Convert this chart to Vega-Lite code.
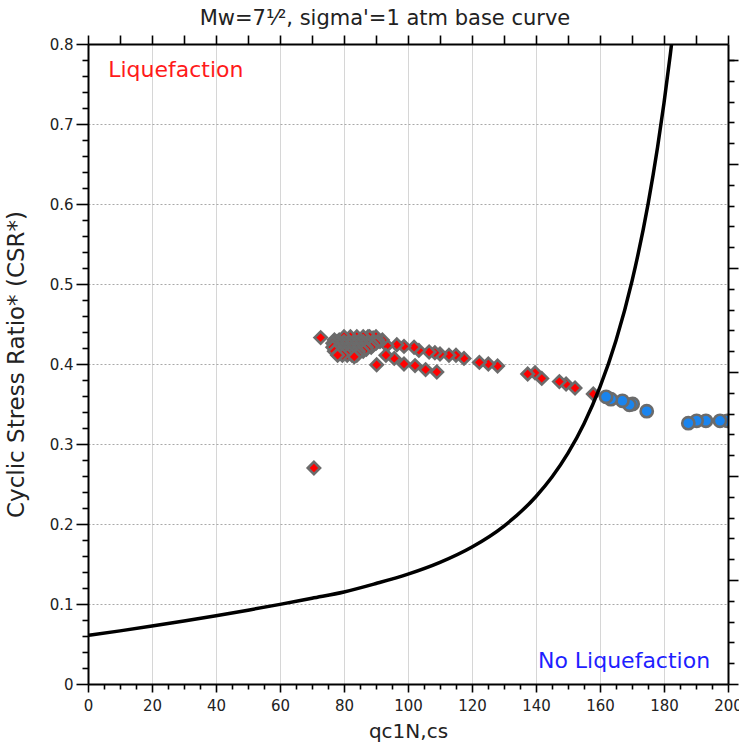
{
  "$schema": "https://vega.github.io/schema/vega-lite/v6.json",
  "width": 640,
  "height": 640,
  "autosize": {"type": "none"},
  "padding": {"left": 88, "top": 44, "right": 11, "bottom": 61},
  "background": "white",
  "title": {"text": "Mw=7¹⁄², sigma'=1 atm base curve", "font": "DejaVu Sans", "fontSize": 21, "fontWeight": "normal", "color": "#222222", "anchor": "middle", "offset": 5, "dx": -23},
  "config": {
    "view": {"stroke": null},
    "axis": {"domainColor": "black", "domainWidth": 2, "tickColor": "black", "tickWidth": 1.6, "labelFont": "DejaVu Sans", "labelFontSize": 15, "labelColor": "#222222", "titleFont": "DejaVu Sans", "titleFontSize": 20, "titleFontWeight": "normal", "titleColor": "#222222"}
  },
  "datasets": {
    "pts": [
      {"q": 199.8, "csr": 0.329, "status": "No Liquefaction"},
      {"q": 197.5, "csr": 0.329, "status": "No Liquefaction"},
      {"q": 193.1, "csr": 0.329, "status": "No Liquefaction"},
      {"q": 190.2, "csr": 0.329, "status": "No Liquefaction"},
      {"q": 187.6, "csr": 0.326, "status": "No Liquefaction"},
      {"q": 174.6, "csr": 0.341, "status": "No Liquefaction"},
      {"q": 170.2, "csr": 0.350, "status": "No Liquefaction"},
      {"q": 169.2, "csr": 0.349, "status": "No Liquefaction"},
      {"q": 167.0, "csr": 0.354, "status": "No Liquefaction"},
      {"q": 163.4, "csr": 0.356, "status": "No Liquefaction"},
      {"q": 161.9, "csr": 0.359, "status": "No Liquefaction"},
      {"q": 157.9, "csr": 0.3625, "status": "Liquefaction"},
      {"q": 152.2, "csr": 0.370, "status": "Liquefaction"},
      {"q": 149.4, "csr": 0.375, "status": "Liquefaction"},
      {"q": 147.3, "csr": 0.378, "status": "Liquefaction"},
      {"q": 141.8, "csr": 0.382, "status": "Liquefaction"},
      {"q": 139.7, "csr": 0.389, "status": "Liquefaction"},
      {"q": 137.4, "csr": 0.3875, "status": "Liquefaction"},
      {"q": 128.0, "csr": 0.3975, "status": "Liquefaction"},
      {"q": 125.1, "csr": 0.400, "status": "Liquefaction"},
      {"q": 122.3, "csr": 0.402, "status": "Liquefaction"},
      {"q": 117.5, "csr": 0.407, "status": "Liquefaction"},
      {"q": 115.0, "csr": 0.411, "status": "Liquefaction"},
      {"q": 112.8, "csr": 0.411, "status": "Liquefaction"},
      {"q": 110.0, "csr": 0.4125, "status": "Liquefaction"},
      {"q": 109.0, "csr": 0.390, "status": "Liquefaction"},
      {"q": 108.4, "csr": 0.414, "status": "Liquefaction"},
      {"q": 106.6, "csr": 0.415, "status": "Liquefaction"},
      {"q": 105.5, "csr": 0.393, "status": "Liquefaction"},
      {"q": 103.4, "csr": 0.417, "status": "Liquefaction"},
      {"q": 102.2, "csr": 0.398, "status": "Liquefaction"},
      {"q": 101.9, "csr": 0.421, "status": "Liquefaction"},
      {"q": 98.75, "csr": 0.400, "status": "Liquefaction"},
      {"q": 98.75, "csr": 0.422, "status": "Liquefaction"},
      {"q": 96.5, "csr": 0.424, "status": "Liquefaction"},
      {"q": 95.7, "csr": 0.407, "status": "Liquefaction"},
      {"q": 93.4, "csr": 0.423, "status": "Liquefaction"},
      {"q": 93.1, "csr": 0.411, "status": "Liquefaction"},
      {"q": 91.25, "csr": 0.428, "status": "Liquefaction"},
      {"q": 90.2, "csr": 0.399, "status": "Liquefaction"},
      {"q": 89.1, "csr": 0.4325, "status": "Liquefaction"},
      {"q": 87.5, "csr": 0.434, "status": "Liquefaction"},
      {"q": 92.0, "csr": 0.430, "status": "Liquefaction"},
      {"q": 90.5, "csr": 0.430, "status": "Liquefaction"},
      {"q": 89.0, "csr": 0.430, "status": "Liquefaction"},
      {"q": 87.5, "csr": 0.430, "status": "Liquefaction"},
      {"q": 86.0, "csr": 0.430, "status": "Liquefaction"},
      {"q": 84.5, "csr": 0.430, "status": "Liquefaction"},
      {"q": 83.0, "csr": 0.430, "status": "Liquefaction"},
      {"q": 81.5, "csr": 0.430, "status": "Liquefaction"},
      {"q": 80.0, "csr": 0.430, "status": "Liquefaction"},
      {"q": 78.5, "csr": 0.430, "status": "Liquefaction"},
      {"q": 77.0, "csr": 0.430, "status": "Liquefaction"},
      {"q": 90.0, "csr": 0.434, "status": "Liquefaction"},
      {"q": 88.0, "csr": 0.434, "status": "Liquefaction"},
      {"q": 86.0, "csr": 0.434, "status": "Liquefaction"},
      {"q": 84.0, "csr": 0.434, "status": "Liquefaction"},
      {"q": 82.0, "csr": 0.434, "status": "Liquefaction"},
      {"q": 80.0, "csr": 0.434, "status": "Liquefaction"},
      {"q": 90.5, "csr": 0.428, "status": "Liquefaction"},
      {"q": 89.0, "csr": 0.428, "status": "Liquefaction"},
      {"q": 87.5, "csr": 0.428, "status": "Liquefaction"},
      {"q": 86.0, "csr": 0.428, "status": "Liquefaction"},
      {"q": 84.5, "csr": 0.428, "status": "Liquefaction"},
      {"q": 83.0, "csr": 0.428, "status": "Liquefaction"},
      {"q": 81.5, "csr": 0.428, "status": "Liquefaction"},
      {"q": 80.0, "csr": 0.428, "status": "Liquefaction"},
      {"q": 78.5, "csr": 0.428, "status": "Liquefaction"},
      {"q": 77.5, "csr": 0.428, "status": "Liquefaction"},
      {"q": 90.0, "csr": 0.426, "status": "Liquefaction"},
      {"q": 88.5, "csr": 0.426, "status": "Liquefaction"},
      {"q": 87.0, "csr": 0.426, "status": "Liquefaction"},
      {"q": 85.5, "csr": 0.426, "status": "Liquefaction"},
      {"q": 84.0, "csr": 0.426, "status": "Liquefaction"},
      {"q": 82.5, "csr": 0.426, "status": "Liquefaction"},
      {"q": 81.0, "csr": 0.426, "status": "Liquefaction"},
      {"q": 79.5, "csr": 0.426, "status": "Liquefaction"},
      {"q": 78.0, "csr": 0.426, "status": "Liquefaction"},
      {"q": 76.5, "csr": 0.426, "status": "Liquefaction"},
      {"q": 89.0, "csr": 0.4235, "status": "Liquefaction"},
      {"q": 87.5, "csr": 0.4235, "status": "Liquefaction"},
      {"q": 86.0, "csr": 0.4235, "status": "Liquefaction"},
      {"q": 84.5, "csr": 0.4235, "status": "Liquefaction"},
      {"q": 83.0, "csr": 0.4235, "status": "Liquefaction"},
      {"q": 81.5, "csr": 0.4235, "status": "Liquefaction"},
      {"q": 80.0, "csr": 0.4235, "status": "Liquefaction"},
      {"q": 78.5, "csr": 0.4235, "status": "Liquefaction"},
      {"q": 77.0, "csr": 0.4235, "status": "Liquefaction"},
      {"q": 88.5, "csr": 0.421, "status": "Liquefaction"},
      {"q": 87.0, "csr": 0.421, "status": "Liquefaction"},
      {"q": 85.5, "csr": 0.421, "status": "Liquefaction"},
      {"q": 84.0, "csr": 0.421, "status": "Liquefaction"},
      {"q": 82.5, "csr": 0.421, "status": "Liquefaction"},
      {"q": 81.0, "csr": 0.421, "status": "Liquefaction"},
      {"q": 79.5, "csr": 0.421, "status": "Liquefaction"},
      {"q": 78.0, "csr": 0.421, "status": "Liquefaction"},
      {"q": 76.5, "csr": 0.421, "status": "Liquefaction"},
      {"q": 87.0, "csr": 0.4185, "status": "Liquefaction"},
      {"q": 85.5, "csr": 0.4185, "status": "Liquefaction"},
      {"q": 84.0, "csr": 0.4185, "status": "Liquefaction"},
      {"q": 82.5, "csr": 0.4185, "status": "Liquefaction"},
      {"q": 81.0, "csr": 0.4185, "status": "Liquefaction"},
      {"q": 79.5, "csr": 0.4185, "status": "Liquefaction"},
      {"q": 78.0, "csr": 0.4185, "status": "Liquefaction"},
      {"q": 86.0, "csr": 0.416, "status": "Liquefaction"},
      {"q": 84.5, "csr": 0.416, "status": "Liquefaction"},
      {"q": 83.0, "csr": 0.416, "status": "Liquefaction"},
      {"q": 81.5, "csr": 0.416, "status": "Liquefaction"},
      {"q": 80.0, "csr": 0.416, "status": "Liquefaction"},
      {"q": 78.5, "csr": 0.416, "status": "Liquefaction"},
      {"q": 77.0, "csr": 0.416, "status": "Liquefaction"},
      {"q": 84.5, "csr": 0.4135, "status": "Liquefaction"},
      {"q": 83.0, "csr": 0.4135, "status": "Liquefaction"},
      {"q": 81.5, "csr": 0.4135, "status": "Liquefaction"},
      {"q": 80.0, "csr": 0.4135, "status": "Liquefaction"},
      {"q": 78.5, "csr": 0.4135, "status": "Liquefaction"},
      {"q": 84.0, "csr": 0.411, "status": "Liquefaction"},
      {"q": 82.5, "csr": 0.411, "status": "Liquefaction"},
      {"q": 81.0, "csr": 0.411, "status": "Liquefaction"},
      {"q": 79.5, "csr": 0.411, "status": "Liquefaction"},
      {"q": 78.0, "csr": 0.411, "status": "Liquefaction"},
      {"q": 83.2, "csr": 0.409, "status": "Liquefaction"},
      {"q": 72.7, "csr": 0.433, "status": "Liquefaction"},
      {"q": 70.6, "csr": 0.270, "status": "Liquefaction"}
    ],
    "curve": [
      {"q": 0, "crr": 0.0608}, {"q": 10, "crr": 0.0664}, {"q": 20, "crr": 0.0724},
      {"q": 30, "crr": 0.0788}, {"q": 40, "crr": 0.0854}, {"q": 50, "crr": 0.0923},
      {"q": 60, "crr": 0.0995}, {"q": 70, "crr": 0.1073}, {"q": 80, "crr": 0.1151},
      {"q": 90, "crr": 0.1256}, {"q": 100, "crr": 0.1373}, {"q": 110, "crr": 0.1520},
      {"q": 120, "crr": 0.1712}, {"q": 130, "crr": 0.1974}, {"q": 140, "crr": 0.2344},
      {"q": 145, "crr": 0.2587}, {"q": 150, "crr": 0.2885}, {"q": 155, "crr": 0.3253},
      {"q": 160, "crr": 0.3713}, {"q": 165, "crr": 0.4293}, {"q": 170, "crr": 0.5035},
      {"q": 175, "crr": 0.5996}, {"q": 178, "crr": 0.6712}, {"q": 180, "crr": 0.7261},
      {"q": 182, "crr": 0.7877}, {"q": 183, "crr": 0.8214}
    ],
    "notes": [
      {"q": 6.3, "csr": 0.768, "label": "Liquefaction", "kind": "Liquefaction"},
      {"q": 140.6, "csr": 0.029, "label": "No Liquefaction", "kind": "No Liquefaction"}
    ]
  },
  "layer": [
    {
      "data": {"name": "pts"},
      "mark": {"type": "point", "filled": true, "size": 150, "stroke": "#6b6b6b", "strokeWidth": 2.6, "strokeOpacity": 1, "opacity": 1, "clip": true},
      "encoding": {
        "x": {"field": "q", "type": "quantitative", "scale": {"domain": [0, 200], "nice": false, "zero": false},
          "axis": {"orient": "bottom", "title": "qc1N,cs", "values": [0, 20, 40, 60, 80, 100, 120, 140, 160, 180, 200], "tickSize": 8, "labelPadding": 6, "titlePadding": 8, "grid": true, "gridColor": "#d6d6d6", "gridWidth": 1, "labelFlush": false, "labelOverlap": false}},
        "y": {"field": "csr", "type": "quantitative", "scale": {"domain": [0, 0.8], "nice": false, "zero": false},
          "axis": {"orient": "left", "title": "Cyclic Stress Ratio* (CSR*)", "titleFontSize": 23, "values": [0, 0.1, 0.2, 0.3, 0.4, 0.5, 0.6, 0.7, 0.8], "labelExpr": "datum.value == 0 ? '0' : format(datum.value, '.1f')", "tickSize": 12, "labelPadding": 3, "titlePadding": 21, "grid": true, "gridColor": "#a8a8a8", "gridDash": [2, 2], "gridWidth": 1, "labelFlush": false, "labelOverlap": false}},
        "shape": {"field": "status", "type": "nominal", "scale": {"domain": ["Liquefaction", "No Liquefaction"], "range": ["diamond", "circle"]}, "legend": null},
        "fill": {"field": "status", "type": "nominal", "scale": {"domain": ["Liquefaction", "No Liquefaction"], "range": ["#ff0000", "#1a84ee"]}, "legend": null}
      }
    },
    {
      "data": {"name": "curve"},
      "mark": {"type": "line", "color": "black", "strokeWidth": 3.5, "clip": true, "interpolate": "monotone"},
      "encoding": {
        "x": {"field": "q", "type": "quantitative", "scale": {"domain": [0, 200], "nice": false, "zero": false},
          "axis": {"orient": "bottom", "title": null, "values": [5, 10, 15, 25, 30, 35, 45, 50, 55, 65, 70, 75, 85, 90, 95, 105, 110, 115, 125, 130, 135, 145, 150, 155, 165, 170, 175, 185, 190, 195], "tickSize": 5, "labels": false, "domain": false, "grid": false}},
        "y": {"field": "crr", "type": "quantitative", "scale": {"domain": [0, 0.8], "nice": false, "zero": false},
          "axis": {"orient": "left", "title": null, "values": [0.02, 0.04, 0.06, 0.08, 0.12, 0.14, 0.16, 0.18, 0.22, 0.24, 0.26, 0.28, 0.32, 0.34, 0.36, 0.38, 0.42, 0.44, 0.46, 0.48, 0.52, 0.54, 0.56, 0.58, 0.62, 0.64, 0.66, 0.68, 0.72, 0.74, 0.76, 0.78], "tickSize": 6, "labels": false, "domain": false, "grid": false}}
      }
    },
    {
      "data": {"name": "notes"},
      "mark": {"type": "text", "align": "left", "baseline": "middle", "font": "DejaVu Sans", "fontSize": 22},
      "encoding": {
        "x": {"field": "q", "type": "quantitative", "scale": {"domain": [0, 200], "nice": false, "zero": false},
          "axis": {"orient": "top", "title": null, "values": [0, 10, 20, 30, 40, 50, 60, 70, 80, 90, 100, 110, 120, 130, 140, 150, 160, 170, 180, 190, 200], "tickSize": 9, "labels": false, "grid": false, "zindex": 1}},
        "y": {"field": "csr", "type": "quantitative", "scale": {"domain": [0, 0.8], "nice": false, "zero": false},
          "axis": {"orient": "right", "title": null, "values": [0.026, 0.052, 0.078, 0.104, 0.156, 0.182, 0.208, 0.234, 0.286, 0.312, 0.338, 0.364, 0.416, 0.442, 0.468, 0.494, 0.546, 0.572, 0.598, 0.624, 0.676, 0.702, 0.728, 0.754, 0.78], "tickSize": 6, "labels": false, "grid": false, "zindex": 1}},
        "text": {"field": "label"},
        "color": {"field": "kind", "type": "nominal", "scale": {"domain": ["Liquefaction", "No Liquefaction"], "range": ["#ff1a1a", "#1f1fff"]}, "legend": null}
      }
    },
    {
      "data": {"name": "notes"},
      "mark": {"type": "point", "opacity": 0},
      "encoding": {
        "x": {"field": "q", "type": "quantitative", "scale": {"domain": [0, 200], "nice": false, "zero": false}, "axis": null},
        "y": {"field": "csr", "type": "quantitative", "scale": {"domain": [0, 0.8], "nice": false, "zero": false},
          "axis": {"orient": "right", "title": null, "values": [0, 0.13, 0.26, 0.39, 0.52, 0.65, 0.78], "tickSize": 10, "labels": false, "domain": false, "grid": false, "zindex": 1}}
      }
    }
  ],
  "resolve": {"axis": {"x": "independent", "y": "independent"}}
}
